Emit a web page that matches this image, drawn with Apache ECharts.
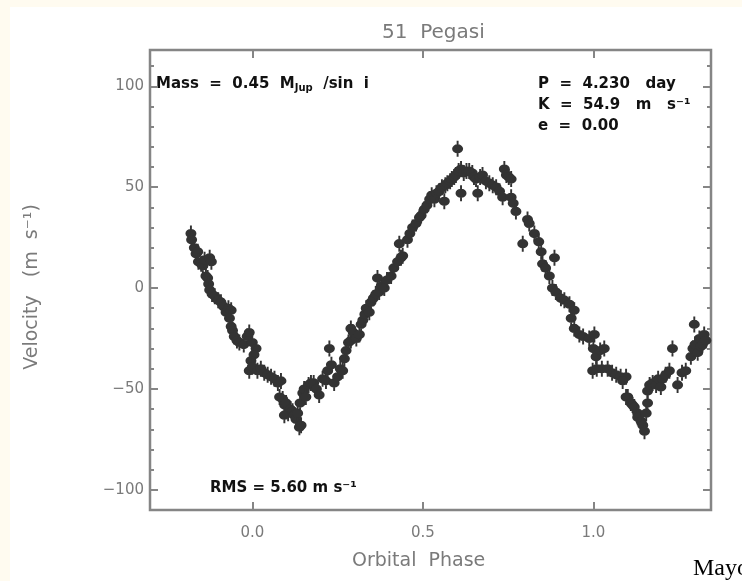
<!DOCTYPE html>
<html><head><meta charset="utf-8">
<script src="https://cdn.jsdelivr.net/npm/echarts@6/dist/echarts.min.js"></script>
<style>
html,body{margin:0;padding:0;background:#fffbf0;width:742px;height:581px;overflow:hidden}
#chart{position:absolute;left:10px;top:7px;width:732px;height:574px;background:#ffffff}
</style></head>
<body><div id="chart"></div>
<script>
// Orbital phase of each measurement
const phase = [
-0.180,-0.178,-0.170,-0.165,-0.160,-0.158,-0.150,-0.145,-0.140,-0.125,-0.120,-0.136,-0.131,-0.128,-0.125,-0.118,-0.110,-0.100,-0.092,-0.085,
-0.077,-0.070,-0.062,-0.067,-0.062,-0.058,-0.053,-0.045,-0.038,-0.025,-0.015,-0.009,0.000,0.011,0.005,-0.004,-0.009,0.000,0.015,0.025,
0.035,0.045,0.055,0.065,0.075,0.084,0.080,0.089,0.095,0.099,0.105,0.094,0.112,0.118,0.123,0.128,0.138,0.143,0.133,0.140,
0.148,0.152,0.157,0.165,0.172,0.180,0.188,0.196,0.206,0.216,0.221,0.226,0.232,0.240,0.250,0.258,0.265,0.270,0.275,0.282,
0.289,0.289,0.296,0.305,0.314,0.319,0.324,0.330,0.334,0.343,0.348,0.355,0.362,0.367,0.372,0.378,0.387,0.395,0.407,0.415,
0.426,0.431,0.436,0.441,0.455,0.462,0.470,0.480,0.490,0.495,0.504,0.512,0.520,0.526,0.534,0.540,0.548,0.556,0.563,0.566,
0.572,0.580,0.585,0.592,0.597,0.602,0.605,0.612,0.612,0.620,0.628,0.636,0.645,0.650,0.656,0.661,0.668,0.675,0.685,0.695,
0.705,0.715,0.725,0.734,0.739,0.745,0.752,0.759,0.759,0.765,0.773,0.793,0.807,0.812,0.827,0.840,0.847,0.851,0.860,0.871,
0.880,0.886,0.890,0.905,0.915,0.930,0.944,0.935,0.944,0.959,0.970,0.988,1.003,1.000,1.008,1.020,1.032,0.998,1.010,1.025,
1.042,1.055,1.067,1.080,1.096,1.086,1.096,1.101,1.110,1.115,1.120,1.130,1.130,1.140,1.145,1.150,1.155,1.159,1.159,1.165,
1.174,1.184,1.190,1.198,1.203,1.212,1.223,1.232,1.247,1.260,1.271,1.286,1.292,1.296,1.298,1.306,1.311,1.315,1.320,1.325,
1.330
];
// Radial velocity (m/s)
const velocity = [
27,24,20,17,18,13,12,11,14,15,13,6,5,2,-1,-3,-4,-6,-7,-9,
-12,-10,-11,-15,-19,-21,-24,-26,-27,-28,-24,-22,-27,-30,-33,-36,-41,-39,-41,-40,
-42,-43,-44,-45,-47,-46,-54,-55,-58,-57,-62,-63,-60,-61,-63,-65,-69,-68,-62,-57,
-52,-50,-54,-48,-47,-47,-50,-53,-45,-46,-41,-30,-38,-47,-44,-40,-41,-35,-31,-27,
-26,-20,-22,-25,-23,-18,-16,-13,-10,-12,-7,-5,-3,5,-2,1,0,4,6,10,
13,22,15,16,24,27,30,32,35,36,39,41,44,46,44,47,48,50,43,51,
52,53,54,55,56,69,58,59,47,57,58,58,57,55,54,47,55,56,53,52,
51,50,48,45,59,56,55,54,45,42,38,22,34,32,27,23,18,12,10,6,
0,15,-2,-5,-6,-8,-11,-15,-20,-23,-24,-25,-23,-30,-34,-31,-30,-41,-40,-40,
-40,-42,-43,-44,-44,-46,-54,-54,-57,-58,-59,-62,-64,-66,-68,-71,-62,-57,-51,-48,
-47,-48,-45,-49,-45,-43,-41,-30,-48,-42,-41,-34,-30,-18,-28,-32,-25,-29,-28,-23,
-26
];
const xTicks = [0, 0.5, 1.0];
const xTickLabels = ['0.0', '0.5', '1.0'];
const yTicks = [-100, -50, 0, 50, 100];
const yMinorTicks = [-110,-90,-80,-70,-60,-40,-30,-20,-10,10,20,30,40,60,70,80,90,110];

const FRAME = '#858585';
const LABEL = '#7a7a7a';
const FONT = 'DejaVu Sans';

const points = phase.map((p, i) => [p, velocity[i]]);
const markerPath = 'path://M4.3,0H5.7V14H4.3Z M5,3A4,4 0 1,1 5,11A4,4 0 1,1 5,3Z';

function yAxisDef(pos, ticks, len, showLabel) {
  return {
    type: 'value', min: -110, max: 118, position: pos,
    axisLine: {show: false, onZero: false}, splitLine: {show: false},
    axisTick: {show: true, inside: true, length: len, customValues: ticks, lineStyle: {color: FRAME, width: 2}},
    axisLabel: {show: showLabel, customValues: yTicks, color: LABEL, fontFamily: FONT, fontSize: 15, margin: 6,
      formatter: v => (v < 0 ? '\u2212' + Math.abs(v) : String(v))}
  };
}
function xAxisDef(pos, showLabel) {
  return {
    type: 'value', min: -0.3, max: 1.345, position: pos,
    axisLine: {show: false, onZero: false}, splitLine: {show: false},
    axisTick: {show: true, inside: true, length: 8, customValues: xTicks, lineStyle: {color: FRAME, width: 2}},
    axisLabel: {show: showLabel, customValues: xTicks, color: LABEL, fontFamily: FONT, fontSize: 15, margin: 16,
      formatter: v => xTickLabels[xTicks.indexOf(Math.round(v * 10) / 10)] || ''}
  };
}

const chart = echarts.init(document.getElementById('chart'), null, {renderer: 'canvas'});
chart.setOption({
  animation: false,
  backgroundColor: '#ffffff',
  grid: {left: 140, top: 43, width: 561, height: 460, show: true, borderColor: FRAME, borderWidth: 2.5, backgroundColor: 'transparent'},
  xAxis: [xAxisDef('bottom', true), xAxisDef('top', false)],
  yAxis: [
    yAxisDef('left', yTicks, 8, true),
    yAxisDef('left', yMinorTicks, 4, false),
    yAxisDef('right', yTicks, 8, false),
    yAxisDef('right', yMinorTicks, 4, false)
  ],
  series: [{
    type: 'scatter', xAxisIndex: 0, yAxisIndex: 0,
    data: points, symbol: markerPath, symbolSize: [11, 16],
    itemStyle: {color: '#333333', opacity: 1}
  }],
  graphic: [
    {type: 'text', left: 372, top: 16, style: {text: '51  Pegasi', fill: LABEL, font: '20px "DejaVu Sans"'}},
    {type: 'text', left: 342, top: 545, style: {text: 'Orbital  Phase', fill: LABEL, font: '19px "DejaVu Sans"'}},
    {type: 'text', x: 22, y: 280, rotation: Math.PI / 2, originX: 0, originY: 0,
      style: {text: 'Velocity   (m  s\u207B\u00B9)', fill: LABEL, font: '19px "DejaVu Sans"', align: 'center', verticalAlign: 'middle'}},
    {type: 'text', left: 146, top: 70, style: {rich: {
      a: {fill: '#111', font: 'bold 15px "DejaVu Sans"'},
      s: {fill: '#111', font: 'bold 10px "DejaVu Sans"', padding: [7, 0, 0, 0]}},
      text: '{a|Mass  =  0.45  M}{s|Jup}{a|  /sin  i}'}},
    {type: 'text', left: 528, top: 70, style: {text: 'P  =  4.230   day', fill: '#111', font: 'bold 15px "DejaVu Sans"'}},
    {type: 'text', left: 528, top: 91, style: {text: 'K  =  54.9   m   s\u207B\u00B9', fill: '#111', font: 'bold 15px "DejaVu Sans"'}},
    {type: 'text', left: 528, top: 112, style: {text: 'e  =  0.00', fill: '#111', font: 'bold 15px "DejaVu Sans"'}},
    {type: 'text', left: 200, top: 474, style: {text: 'RMS = 5.60 m s\u207B\u00B9', fill: '#111', font: 'bold 15px "DejaVu Sans"'}},
    {type: 'text', left: 683, top: 550, style: {text: 'Mayor', fill: '#000', font: '24px "Liberation Serif"'}}
  ]
});
</script></body></html>
